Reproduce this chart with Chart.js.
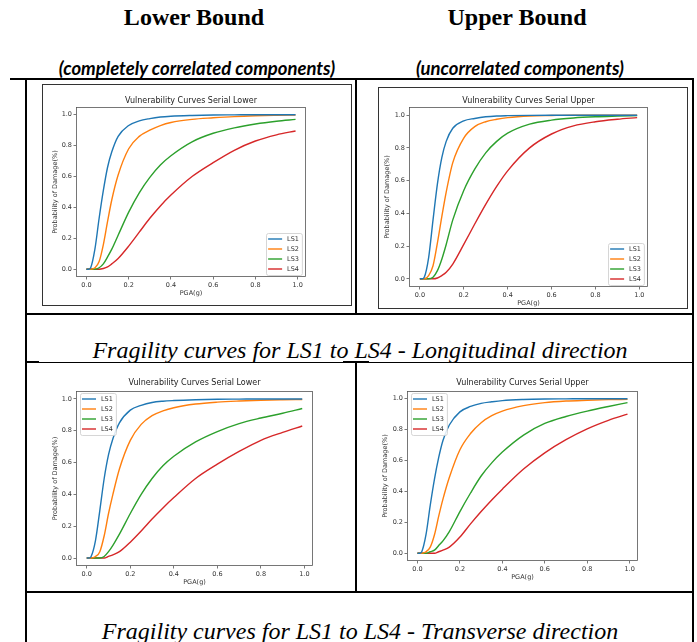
<!DOCTYPE html>
<html>
<head>
<meta charset="utf-8">
<script src="https://cdn.jsdelivr.net/npm/chart.js@4.4.0/dist/chart.umd.min.js"></script>
<style>
  body { margin: 0; width: 697px; height: 642px; position: relative; overflow: hidden; background: #fff; }
  .ln { position: absolute; background: #000; }
  .txt { position: absolute; white-space: nowrap; transform: translateX(-50%); color: #000; line-height: 1; }
  .head { font: bold 24px "Liberation Serif", "Times New Roman", serif; }
  .sub { font: italic bold 18.5px Lato, "Open Sans", sans-serif; }
  .cap { font: italic 24px "Liberation Serif", "Times New Roman", serif; }
  .frame { position: absolute; border: 1px solid #333; box-sizing: border-box; }
  canvas { position: absolute; }
</style>
</head>
<body>

<div class="txt head" style="left:194px; top:4px;">Lower Bound</div>
<div class="txt head" style="left:517px; top:4px;">Upper Bound</div>
<div class="txt sub" style="left:197px; top:57px;">(completely correlated components)</div>
<div class="txt sub" style="left:520px; top:57px;">(uncorrelated components)</div>

<!-- table rules -->
<div class="ln" style="left:10px; top:78px; width:684px; height:2px;"></div>
<div class="ln" style="left:25px; top:78px; width:2px; height:564px;"></div>
<div class="ln" style="left:692px; top:78px; width:2px; height:564px;"></div>
<div class="ln" style="left:355px; top:78px; width:2px; height:236px;"></div>
<div class="ln" style="left:25px; top:313px; width:669px; height:2px;"></div>
<div class="ln" style="left:26px; top:362px; width:668px; height:1px;"></div>
<div class="ln" style="left:26px; top:361px; width:13px; height:2px;"></div>
<div class="ln" style="left:343px; top:361px; width:26px; height:2px;"></div>
<div class="ln" style="left:355px; top:362px; width:2px; height:230px;"></div>
<div class="ln" style="left:25px; top:591px; width:669px; height:2px;"></div>

<div class="txt cap" style="left:360px; top:337px;">Fragility curves for LS1 to LS4 - Longitudinal direction</div>
<div class="txt cap" style="left:360px; top:618px;">Fragility curves for LS1 to LS4 - Transverse direction</div>

<div class="frame" style="left:42px; top:84px; width:310px; height:222px;"></div>
<div class="frame" style="left:378px; top:87px; width:310px; height:222px;"></div>

<script>
// PGA sample points (g)
const pga = [0, 0.01, 0.02, 0.04, 0.06, 0.08, 0.1, 0.12, 0.15, 0.2, 0.25, 0.3, 0.35, 0.4, 0.5, 0.6, 0.7, 0.8, 0.9, 0.99];
const limitStates = ['LS1', 'LS2', 'LS3', 'LS4'];
const tickVals = [0, 0.2, 0.4, 0.6, 0.8, 1.0];

// Longitudinal - serial lower
const longLowerLS1 = [0, 0, 0.01, 0.13, 0.33, 0.51, 0.66, 0.76, 0.86, 0.93, 0.96, 0.975, 0.985, 0.99, 0.995, 0.998, 0.999, 1, 1, 1];
const longLowerLS2 = [0, 0, 0, 0.01, 0.05, 0.16, 0.31, 0.45, 0.61, 0.78, 0.86, 0.90, 0.93, 0.95, 0.97, 0.98, 0.988, 0.993, 0.996, 0.998];
const longLowerLS3 = [0, 0, 0, 0, 0.01, 0.035, 0.08, 0.13, 0.22, 0.37, 0.495, 0.595, 0.675, 0.735, 0.825, 0.88, 0.915, 0.94, 0.958, 0.97];
const longLowerLS4 = [0, 0, 0, 0, 0, 0.005, 0.015, 0.035, 0.07, 0.15, 0.24, 0.33, 0.41, 0.48, 0.60, 0.69, 0.77, 0.83, 0.87, 0.895];

// Longitudinal - serial upper
const longUpperLS1 = [0, 0, 0.01, 0.13, 0.36, 0.58, 0.74, 0.84, 0.92, 0.965, 0.98, 0.99, 0.995, 0.997, 0.999, 1, 1, 1, 1, 1];
const longUpperLS2 = [0, 0, 0, 0.02, 0.08, 0.22, 0.38, 0.53, 0.71, 0.86, 0.93, 0.96, 0.975, 0.985, 0.995, 0.998, 1, 1, 1, 1];
const longUpperLS3 = [0, 0, 0, 0, 0.01, 0.05, 0.12, 0.21, 0.36, 0.54, 0.67, 0.77, 0.84, 0.89, 0.945, 0.97, 0.983, 0.99, 0.994, 0.997];
const longUpperLS4 = [0, 0, 0, 0, 0, 0.005, 0.02, 0.04, 0.09, 0.21, 0.335, 0.455, 0.565, 0.66, 0.80, 0.885, 0.935, 0.96, 0.975, 0.985];

// Transverse - serial lower
const transLowerLS1 = [0, 0, 0.01, 0.11, 0.30, 0.50, 0.65, 0.75, 0.85, 0.93, 0.96, 0.978, 0.986, 0.99, 0.995, 0.998, 0.999, 1, 1, 1];
const transLowerLS2 = [0, 0, 0, 0.01, 0.04, 0.14, 0.28, 0.40, 0.56, 0.74, 0.84, 0.895, 0.925, 0.945, 0.968, 0.98, 0.987, 0.992, 0.995, 0.997];
const transLowerLS3 = [0, 0, 0, 0, 0, 0.01, 0.04, 0.08, 0.15, 0.28, 0.40, 0.50, 0.58, 0.64, 0.73, 0.795, 0.845, 0.88, 0.91, 0.94];
const transLowerLS4 = [0, 0, 0, 0, 0, 0, 0.01, 0.02, 0.04, 0.10, 0.17, 0.245, 0.315, 0.38, 0.50, 0.59, 0.67, 0.74, 0.79, 0.83];

// Transverse - serial upper
const transUpperLS1 = [0, 0, 0.01, 0.12, 0.31, 0.48, 0.62, 0.73, 0.83, 0.915, 0.95, 0.97, 0.98, 0.988, 0.995, 0.998, 0.999, 1, 1, 1];
const transUpperLS2 = [0, 0, 0, 0.01, 0.04, 0.12, 0.24, 0.35, 0.49, 0.67, 0.775, 0.845, 0.89, 0.92, 0.955, 0.975, 0.985, 0.99, 0.994, 0.996];
const transUpperLS3 = [0, 0, 0, 0, 0.01, 0.02, 0.05, 0.08, 0.14, 0.27, 0.39, 0.50, 0.585, 0.655, 0.765, 0.84, 0.885, 0.92, 0.95, 0.975];
const transUpperLS4 = [0, 0, 0, 0, 0, 0, 0.01, 0.02, 0.04, 0.105, 0.19, 0.27, 0.345, 0.415, 0.545, 0.65, 0.735, 0.805, 0.86, 0.90];

const colors = ['#1f77b4', '#ff7f0e', '#2ca02c', '#d62728'];
const FONT = '"DejaVu Sans", sans-serif';

// box = canvas left/top/width/height, area = plot left/top/right/bottom (page px)
const panels = [
  { title: 'Vulnerability Curves Serial Lower', series: [longLowerLS1, longLowerLS2, longLowerLS3, longLowerLS4],
    box: [42, 84, 310, 222], area: [76, 107, 306, 277], titleY: 101, yLabX: 55, xLabY: 293, corner: 'lr' },
  { title: 'Vulnerability Curves Serial Upper', series: [longUpperLS1, longUpperLS2, longUpperLS3, longUpperLS4],
    box: [378, 87, 310, 222], area: [409, 107, 648, 287], titleY: 101, yLabX: 387, xLabY: 303, corner: 'lr' },
  { title: 'Vulnerability Curves Serial Lower', series: [transLowerLS1, transLowerLS2, transLowerLS3, transLowerLS4],
    box: [42, 368, 310, 220], area: [76, 391, 313, 566], titleY: 383, yLabX: 55, xLabY: 582, corner: 'ul' },
  { title: 'Vulnerability Curves Serial Upper', series: [transUpperLS1, transUpperLS2, transUpperLS3, transUpperLS4],
    box: [370, 368, 318, 220], area: [407, 391, 638, 561], titleY: 383, yLabX: 385, xLabY: 577, corner: 'ul' }
];

// matplotlib-like closed axes frame
const axesFrame = {
  id: 'axesFrame',
  afterDatasetsDraw(chart) {
    const { ctx, chartArea: a } = chart;
    ctx.save();
    ctx.strokeStyle = '#555';
    ctx.lineWidth = 0.8;
    ctx.strokeRect(Math.round(a.left) + 0.5, Math.round(a.top) + 0.5, Math.round(a.width) - 1, Math.round(a.height) - 1);
    ctx.restore();
  }
};

// legend drawn inside the axes
const innerLegend = {
  id: 'innerLegend',
  afterDraw(chart, args, opts) {
    const { ctx, chartArea: a } = chart;
    const sets = chart.data.datasets;
    const rowH = 10;
    ctx.save();
    ctx.font = '6.5px ' + FONT;
    const textW = Math.max(...sets.map(d => ctx.measureText(d.label).width));
    const w = 2 + 14 + 5 + textW + 3;
    const h = 2 + rowH * sets.length;
    let x, y;
    if (opts.corner === 'lr') {
      x = a.right - 4 - w;
      y = a.bottom - 2 - h;
    } else {
      x = a.left + 4;
      y = a.top + 2;
    }
    ctx.fillStyle = 'rgba(255,255,255,0.85)';
    ctx.strokeStyle = '#ccc';
    ctx.lineWidth = 0.8;
    ctx.beginPath();
    ctx.roundRect(Math.round(x) + 0.5, Math.round(y) + 0.5, w, h, 2);
    ctx.fill();
    ctx.stroke();
    sets.forEach((d, i) => {
      const cy = y + 1 + rowH * i + rowH / 2;
      ctx.strokeStyle = d.borderColor;
      ctx.lineWidth = 1.4;
      ctx.beginPath();
      ctx.moveTo(x + 2, cy);
      ctx.lineTo(x + 16, cy);
      ctx.stroke();
      ctx.fillStyle = '#333';
      ctx.textBaseline = 'middle';
      ctx.fillText(d.label, x + 21, cy);
    });
    ctx.restore();
  }
};

function makeChart(p) {
  const [bl, bt, bw, bh] = p.box;
  const [al, at, ar, ab] = p.area;
  const cv = document.createElement('canvas');
  cv.width = bw;
  cv.height = bh;
  cv.style.left = bl + 'px';
  cv.style.top = bt + 'px';
  cv.style.width = bw + 'px';
  cv.style.height = bh + 'px';
  document.body.appendChild(cv);

  const titleLh = 8 * 1.2;
  const titleTop = p.titleY - bt - titleLh / 2;
  const labLh = 6.5 * 1.2;

  const tickStyle = {
    font: { family: FONT, size: 6.5 },
    color: '#333',
    padding: 1.5,
    autoSkip: false,
    maxRotation: 0,
    callback: v => Number(v).toFixed(1)
  };
  const gridStyle = {
    display: true,
    drawOnChartArea: false,
    drawTicks: true,
    tickLength: 2.5,
    color: '#555',
    lineWidth: 0.8,
    offset: false
  };

  new Chart(cv, {
    type: 'line',
    data: {
      datasets: p.series.map((vals, i) => ({
        label: limitStates[i],
        data: pga.map((x, j) => ({ x: x, y: vals[j] })),
        borderColor: colors[i],
        backgroundColor: colors[i],
        borderWidth: 1.4,
        pointRadius: 0,
        cubicInterpolationMode: 'monotone',
        fill: false
      }))
    },
    options: {
      responsive: false,
      animation: false,
      events: [],
      layout: { padding: { left: 0, top: 0, right: (bl + bw) - ar, bottom: 0 } },
      scales: {
        x: {
          type: 'linear',
          min: -0.0495,
          max: 1.0395,
          afterBuildTicks: s => { s.ticks = tickVals.map(v => ({ value: v })); },
          afterFit: s => { s.height = (bt + bh) - ab; },
          ticks: tickStyle,
          grid: gridStyle,
          border: { display: false },
          title: {
            display: true,
            text: 'PGA(g)',
            color: '#333',
            font: { family: FONT, size: 6.5 },
            padding: { top: 0, bottom: (bt + bh) - p.xLabY - labLh / 2 }
          }
        },
        y: {
          type: 'linear',
          min: -0.05,
          max: 1.05,
          afterBuildTicks: s => { s.ticks = tickVals.map(v => ({ value: v })); },
          afterFit: s => { s.width = al - bl; },
          ticks: tickStyle,
          grid: gridStyle,
          border: { display: false },
          title: {
            display: true,
            text: 'Probability of Damage(%)',
            color: '#333',
            font: { family: FONT, size: 6.5 },
            padding: { top: p.yLabX - bl - labLh / 2, bottom: 0 }
          }
        }
      },
      plugins: {
        legend: { display: false },
        tooltip: { enabled: false },
        title: {
          display: true,
          text: p.title,
          color: '#222',
          fullSize: false,
          font: { family: FONT, size: 8, weight: 'normal' },
          padding: { top: titleTop, bottom: (at - bt) - titleLh - titleTop }
        },
        innerLegend: { corner: p.corner }
      }
    },
    plugins: [axesFrame, innerLegend]
  });
}

panels.forEach(makeChart);
</script>
</body>
</html>
